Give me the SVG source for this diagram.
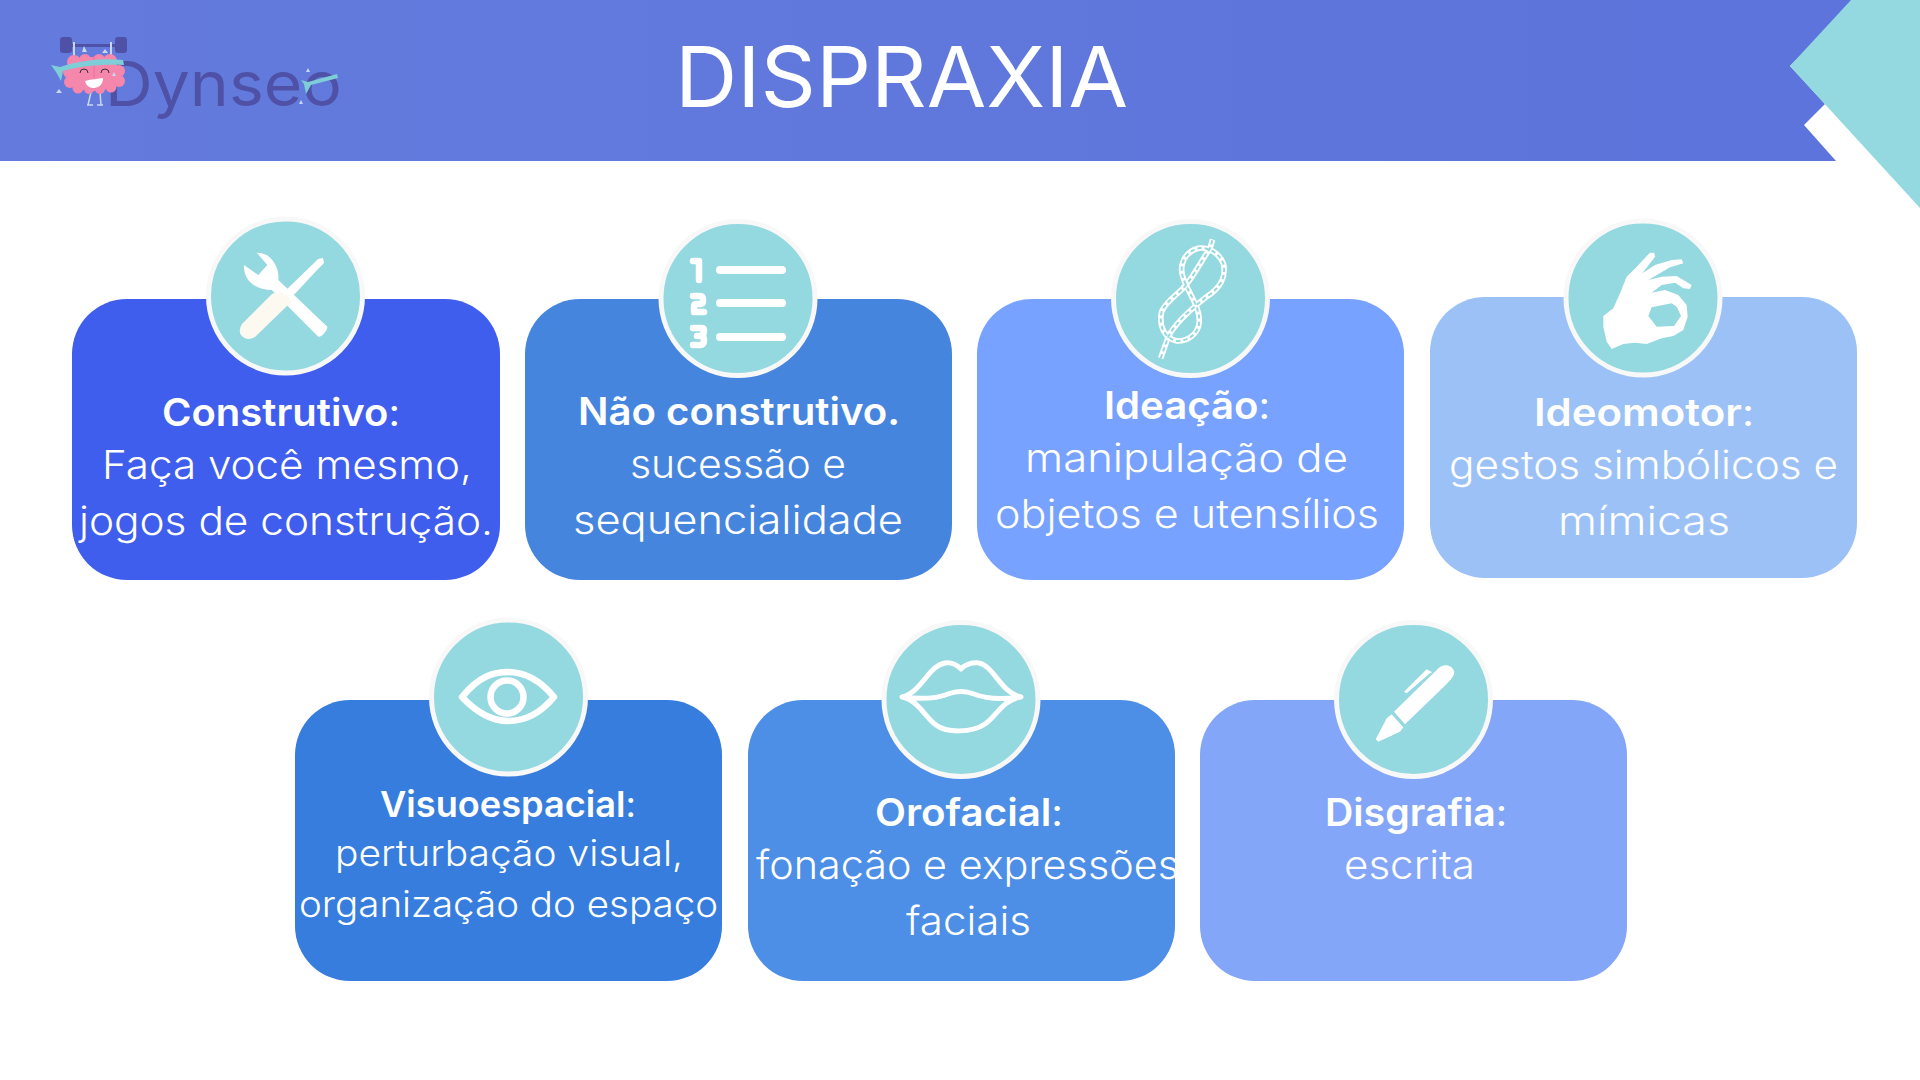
<svg xmlns="http://www.w3.org/2000/svg" width="1920" height="1080" viewBox="0 0 1920 1080">
<style>
text{font-family:Inter,"Liberation Sans",sans-serif;fill:#fff;text-anchor:start}
.h{font-size:38px;font-weight:600}
.b{font-size:39px;font-weight:300}
.s{font-size:36px;font-weight:300}
.c{font-weight:400}
.disc{fill:#94d8e0;stroke:#f8f8f8;stroke-width:5}
.w{fill:#fff}
.l{fill:none;stroke:#fff;stroke-linecap:round;stroke-linejoin:round}
.pk{fill:#f487ab}
.dr{fill:#c9d6f0}
</style>
<defs><linearGradient id="g" x1="0" x2="1" y1="0" y2="0"><stop offset="0" stop-color="#647bdd"/><stop offset="1" stop-color="#5c74db"/></linearGradient></defs>
<rect width="1920" height="1080" fill="#fff"/>
<g id="banner">
<polygon points="0,0 1855,0 1790,66 1825,104 1804,125 1836,161 0,161" fill="url(#g)"/>
<polygon points="1851,0 1920,0 1920,208 1790,66" fill="#94d8e0"/>
<text x="675" y="107" font-size="84" textLength="453" lengthAdjust="spacingAndGlyphs" style="font-weight:400">DISPRAXIA</text>
</g>
<g id="logo">
<text x="105" y="106" font-size="62" textLength="237" lengthAdjust="spacingAndGlyphs" style="fill:#4f51a6;font-weight:400">Dynseo</text>
<rect x="60" y="37" width="12" height="16" rx="3" fill="#4f51a6"/><rect x="115" y="37" width="12" height="16" rx="3" fill="#4f51a6"/>
<rect x="72" y="44" width="44" height="3" fill="#4f51a6"/>
<path d="M74 42V60M111 42V60" stroke="#c9d6f0" stroke-width="2"/>
<path d="M91 92l-3 13M100 92l1 13M87 105h6M97 105h6" stroke="#c9d6f0" stroke-width="1.5" fill="none"/>
<g class="pk">
<ellipse cx="94" cy="74" rx="27" ry="17"/>
<circle cx="74" cy="62" r="7"/><circle cx="85" cy="60" r="6"/><circle cx="99" cy="60" r="6"/><circle cx="110" cy="61" r="7"/>
<circle cx="69" cy="72" r="6"/><circle cx="119" cy="71" r="6"/><circle cx="70" cy="82" r="6"/><circle cx="119" cy="81" r="6"/>
<circle cx="78" cy="88" r="5.5"/><circle cx="89" cy="89" r="5"/><circle cx="100" cy="89" r="5"/><circle cx="111" cy="87" r="5.5"/>
</g>
<path d="M94 56V78" stroke="#e9709a" stroke-width="1"/>
<path d="M85 81C92 79 98 79 103 78C103 86 97 88 93 88C89 88 86 85 85 81Z" fill="#fff"/>
<path d="M80 73a4 4 0 0 1 8 0M101 73a4 4 0 0 1 8 0" fill="none" stroke="#333" stroke-width="1"/>
<path d="M51 65L60 67C80 60 105 58 123 60L124 65C100 64 80 66 63 71L61 81L56 72Z" fill="#7dced6"/>
<path d="M301 80L308 82L337 74L338 78L311 85L306 94L304 84Z" fill="#7dced6"/>
<path class="dr" d="M84 46l3 6h-5zM105 49l3 4h-6zM59 89l3 4h-6zM114 72l2 4h-4zM308 68l2 4h-4zM301 100l2 4h-4z"/>
</g>
<g id="card1"><rect x="72" y="299" width="428" height="281" rx="55" fill="#3f5eee"/><circle class="disc" cx="285.5" cy="296" r="77"/>
<path class="w" d="M256.700 252.700C270 251.700 280 266.700 278.300 280L327.300 326.700C328 330 321 338 318.300 336.700L271.700 290C256.700 290 243.300 281.700 244 265L258.300 275L267.300 265Z"/>
<path fill="#fdf8f0" d="M242 324L272 294Q282 289 289 298L291 302L255 337Q247 342 241 335Q238 330 242 324Z"/>
<path class="w" d="M284 292L313 264L318 259L323 258L324 263L319 268L291 298Z"/>
</g>
<g id="card2"><rect x="525" y="299" width="427" height="281" rx="55" fill="#4685de"/><circle class="disc" cx="738" cy="298.500" r="77"/>
<path class="l" d="M720 270H782M720 303H782M720 337H782" stroke-width="8"/>
<path class="l" d="M693 261H699V280M693 296H700Q703 296 703 300V301Q703 304 700 304H696Q694 304 694 307V312H704M693 328H702Q704 328 704 331Q704 336 699 336H697M699 336Q704 336 704 340Q704 345 700 345H693" stroke-width="6.500"/>
</g>
<g id="card3"><rect x="977" y="299" width="427" height="281" rx="55" fill="#78a2ff"/><circle class="disc" cx="1190.500" cy="298.500" r="77"/>
<g transform="translate(1100 210) scale(.3333)">
<path id="rope" class="l" style="stroke-linecap:butt" d="M182 445L205 380C225 340 270 300 320 260C360 235 380 200 370 160C355 125 320 110 295 115C255 125 235 165 250 205C265 250 300 290 298 335C295 375 260 395 230 393C195 385 175 350 185 305C200 270 235 255 262 220C285 190 300 160 330 115L338 88" stroke-width="17"/>
<path fill="none" stroke="#94d8e0" stroke-width="6" stroke-dasharray="13 9" d="M182 445L205 380C225 340 270 300 320 260C360 235 380 200 370 160C355 125 320 110 295 115C255 125 235 165 250 205C265 250 300 290 298 335C295 375 260 395 230 393C195 385 175 350 185 305C200 270 235 255 262 220C285 190 300 160 330 115L338 88"/>
</g>
</g>
<g id="card4"><rect x="1430" y="297" width="427" height="281" rx="55" fill="#9cc1f6"/><circle class="disc" cx="1643" cy="298" r="77"/>
<path fill-rule="evenodd" class="w" transform="translate(1555 210) scale(.3333)" d="M145 318L175 295L195 250L215 200L245 170L285 128L298 128L300 140L262 190L300 165L350 150L380 148L385 160L345 172L280 210L320 200L365 198L410 225L405 237L385 235L360 218L320 225L290 248L330 240L370 255L395 285L398 320L385 360L355 378L320 385L275 402L240 398L205 402L170 417L155 395L145 350ZM280 318L290 292L350 280L365 290L378 318L357 348L305 350Z"/>
</g>
<g id="card5"><rect x="295" y="700" width="427" height="281" rx="55" fill="#367dde"/><circle class="disc" cx="508.500" cy="697" r="77"/>
<path class="l" d="M462 697C480 675 495 672 508 672C525 672 540 680 554 697C540 714 525 721 508 721C492 721 478 714 462 697Z" stroke-width="6.500"/><circle class="l" cx="507" cy="697" r="16.500" stroke-width="6.500"/>
</g>
<g id="card6"><rect x="748" y="700" width="427" height="281" rx="55" fill="#4d8ee6"/><circle class="disc" cx="961" cy="699.500" r="77"/>
<path class="l" d="M902 697C922 692 928 666 945 663C952 662 958 666 961 669C964 665 972 662 979 663C994 666 1000 692 1021 697C1002 700 996 717 985 724C972 733 946 733 936 725C925 717 918 700 902 697ZM902 697C925 700 938 698 948 694C956 691 966 691 974 694C984 698 1000 700 1021 697" stroke-width="5"/>
</g>
<g id="card7"><rect x="1200" y="700" width="427" height="281" rx="55" fill="#83a6f8"/><circle class="disc" cx="1413.500" cy="699.500" r="77"/>
<g transform="translate(1325 610) scale(.3333)">
<path class="w" d="M207 305L335 180C350 160 380 160 388 185C388 200 375 210 365 222L240 343ZM200 313L235 352L225 365L160 395L152 388L185 325Z"/>
<path class="w" d="M237 245L305 178L322 187L315 190L245 250Z"/>
</g>
</g>
<g id="labels">
<text class="h" x="162" y="426" textLength="238" lengthAdjust="spacingAndGlyphs">Construtivo<tspan class="c">:</tspan></text>
<text class="b" x="102" y="479" textLength="370" lengthAdjust="spacingAndGlyphs">Faça você mesmo,</text>
<text class="b" x="79" y="535" textLength="414" lengthAdjust="spacingAndGlyphs">jogos de construção.</text>
<text class="h" x="578" y="425" textLength="322" lengthAdjust="spacingAndGlyphs">Não construtivo.</text>
<text class="b" x="630" y="478" textLength="216" lengthAdjust="spacingAndGlyphs">sucessão e</text>
<text class="b" x="573" y="534" textLength="330" lengthAdjust="spacingAndGlyphs">sequencialidade</text>
<text class="h" x="1104" y="419" textLength="166" lengthAdjust="spacingAndGlyphs">Ideação<tspan class="c">:</tspan></text>
<text class="b" x="1025" y="472" textLength="323" lengthAdjust="spacingAndGlyphs">manipulação de</text>
<text class="b" x="995" y="528" textLength="384" lengthAdjust="spacingAndGlyphs">objetos e utensílios</text>
<text class="h" x="1534" y="426" textLength="220" lengthAdjust="spacingAndGlyphs">Ideomotor<tspan class="c">:</tspan></text>
<text class="b" x="1449" y="479" textLength="389" lengthAdjust="spacingAndGlyphs">gestos simbólicos e</text>
<text class="b" x="1558" y="535" textLength="172" lengthAdjust="spacingAndGlyphs">mímicas</text>
<text class="h" x="380" y="817" textLength="256" lengthAdjust="spacingAndGlyphs" style="font-size:36px">Visuoespacial<tspan class="c">:</tspan></text>
<text class="s" x="335" y="866" textLength="348" lengthAdjust="spacingAndGlyphs">perturbação visual,</text>
<text class="s" x="299" y="917" textLength="419" lengthAdjust="spacingAndGlyphs">organização do espaço</text>
<text class="h" x="875" y="826" textLength="188" lengthAdjust="spacingAndGlyphs">Orofacial<tspan class="c">:</tspan></text>
<text class="b" x="756" y="879" textLength="423" lengthAdjust="spacingAndGlyphs">fonação e expressões</text>
<text class="b" x="906" y="935" textLength="125" lengthAdjust="spacingAndGlyphs">faciais</text>
<text class="h" x="1325" y="826" textLength="182" lengthAdjust="spacingAndGlyphs">Disgrafia<tspan class="c">:</tspan></text>
<text class="b" x="1344" y="879" textLength="131" lengthAdjust="spacingAndGlyphs">escrita</text>
</g>
</svg>
